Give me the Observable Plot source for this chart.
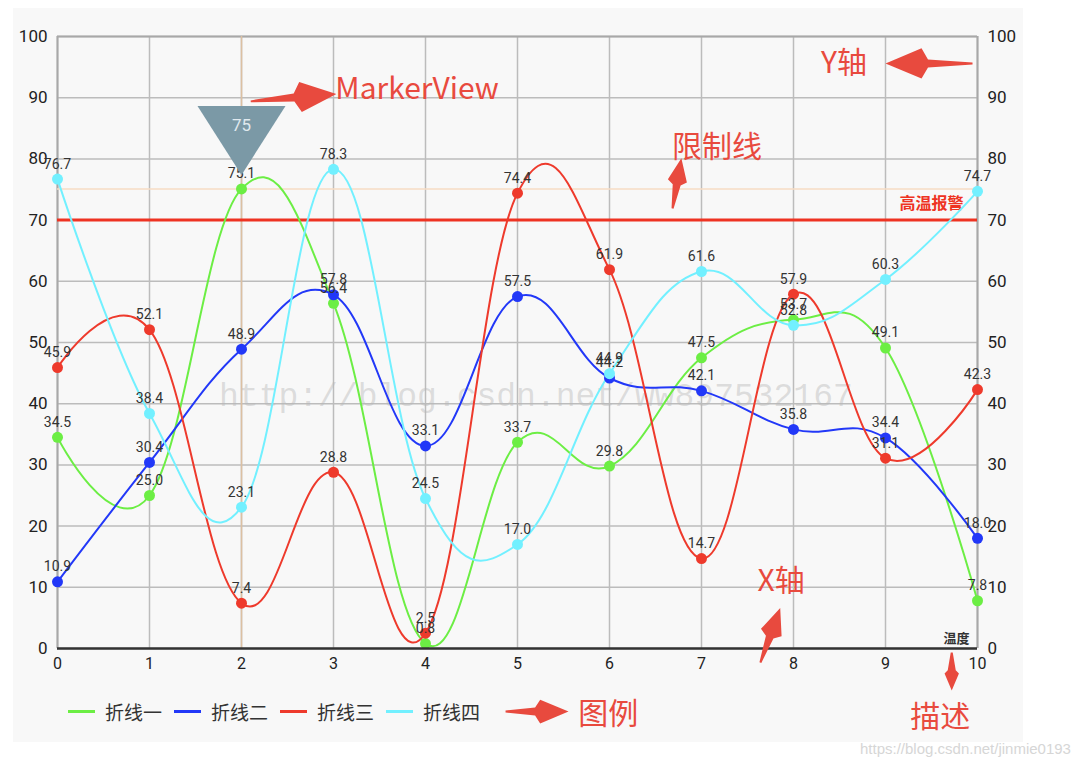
<!DOCTYPE html>
<html>
<head>
<meta charset="utf-8">
<script src="https://cdn.jsdelivr.net/npm/d3@7"></script>
<script src="https://cdn.jsdelivr.net/npm/@observablehq/plot@0.6"></script>
<style>
  html, body { margin: 0; padding: 0; background: #ffffff; }
  #wrap { position: relative; width: 1092px; height: 768px; overflow: hidden; }
  #panel { position: absolute; left: 13px; top: 8px; width: 1010px; height: 734px; background: #f8f8f8; }
  #chart { position: absolute; left: 0; top: 0; }
  #legend { position: absolute; left: 68px; top: 698px; display: flex; align-items: center;
            font-family: "Noto Sans CJK SC", sans-serif; font-size: 19px; color: #333; }
  #legend .item { display: flex; align-items: center; margin-right: 12px; }
  #legend .sw { width: 27px; height: 2.5px; margin-right: 10px; }
  #csdn { position: absolute; left: 860px; top: 740px; font-family: "Liberation Sans", Arial, sans-serif;
          font-size: 15px; color: #d6d6d6; }
</style>
</head>
<body>
<div id="wrap">
  <div id="panel"></div>
  <div id="chart"></div>
  <div id="legend"></div>
  <div id="csdn">https://blog.csdn.net/jinmie0193</div>
</div>
<script>
// ---- data ----
const xTicks = [0, 1, 2, 3, 4, 5, 6, 7, 8, 9, 10];
const yTicks = [0, 10, 20, 30, 40, 50, 60, 70, 80, 90, 100];
const seriesNames = ["折线一", "折线二", "折线三", "折线四"];
const series1 = [34.5, 25.0, 75.1, 56.4, 0.8, 33.7, 29.8, 47.5, 53.7, 49.1, 7.8];
const series2 = [10.9, 30.4, 48.9, 57.8, 33.1, 57.5, 44.2, 42.1, 35.8, 34.4, 18.0];
const series3 = [45.9, 52.1, 7.4, 28.8, 2.5, 74.4, 61.9, 14.7, 57.9, 31.1, 42.3];
const series4 = [76.7, 38.4, 23.1, 78.3, 24.5, 17.0, 44.9, 61.6, 52.8, 60.3, 74.7];
const seriesColors = ["#6cee44", "#2238f8", "#ee3a2c", "#72f0ff"];
const limitValue = 70;
const limitLabel = "高温报警";
const descriptionText = "温度";
const highlightSeries = 0;
const highlightIndex = 2;
const watermark = "http://blog.csdn.net/ww897532167";

// annotation texts and arrows (data coordinates)
const noteTexts = ["MarkerView", "限制线", "Y轴", "X轴", "图例", "描述"];
const noteX = [3.02, 6.68, 8.30, 7.61, 5.66, 9.27];
const noteY = [91.3, 81.9, 95.6, 10.9, -10.8, -11.3];
const arrowX = [2.10, 6.685, 9.946, 7.64, 4.87, 9.72];
const arrowY = [89.4, 71.9, 95.6, -2.3, -10.3, -0.65];
const arrowLen = [86, 51, 87, 58, 63, 38];
const arrowRot = [85, 10, -90, 20, 90, 180];

// ---- build tables ----
const seriesValues = [series1, series2, series3, series4];
const rows = seriesNames.flatMap((name, s) =>
  seriesValues[s].map((v, i) => ({series: name, x: xTicks[i], y: v})));
const hl = {x: xTicks[highlightIndex], y: seriesValues[highlightSeries][highlightIndex]};
const notes = noteTexts.map((t, i) => ({text: t, x: noteX[i], y: noteY[i]}));
const arrows = arrowX.map((x, i) => ({x, y: arrowY[i], len: arrowLen[i], rot: arrowRot[i]}));

// custom shapes
const markerSymbol = {
  draw(ctx) {
    ctx.moveTo(-44, -83);
    ctx.lineTo(44, -83);
    ctx.lineTo(0, -14);
    ctx.closePath();
  }
};
const fatArrow = {
  draw(ctx, l) {
    const head = Math.min(36, l * 0.45);
    const half = head * 0.42;
    const neck = 4;
    const notch = head * 0.18;
    ctx.moveTo(-1, 0);
    ctx.lineTo(-neck, -(l - head) + notch);
    ctx.lineTo(-half, -(l - head));
    ctx.lineTo(0, -l);
    ctx.lineTo(half, -(l - head));
    ctx.lineTo(neck, -(l - head) + notch);
    ctx.lineTo(1, 0);
    ctx.closePath();
  }
};

const red = "#e84a3e";
const chart = Plot.plot({
  width: 1092,
  height: 768,
  marginLeft: 57,
  marginRight: 115,
  marginTop: 36,
  marginBottom: 120,
  x: {domain: [0, 10], axis: null},
  y: {domain: [0, 100], axis: null},
  length: {type: "identity"},
  color: {domain: seriesNames, range: seriesColors},
  style: {background: "transparent", overflow: "visible", fontFamily: "Roboto, sans-serif"},
  marks: [
    Plot.gridX(xTicks, {stroke: "#bcbcbc", strokeOpacity: 1, strokeWidth: 1.5}),
    Plot.gridY(yTicks, {stroke: "#bcbcbc", strokeOpacity: 1, strokeWidth: 1.5}),
    Plot.ruleX([0, 10], {stroke: "#a8a8a8", strokeWidth: 2}),
    Plot.ruleY([100], {stroke: "#a8a8a8", strokeWidth: 2}),
    Plot.axisY({anchor: "left", ticks: yTicks, tickSize: 0, tickPadding: 10, fontSize: 17, color: "#222", label: null}),
    Plot.axisY({anchor: "right", ticks: yTicks, tickSize: 0, tickPadding: 10, fontSize: 17, color: "#222", label: null}),
    Plot.axisX({anchor: "bottom", ticks: xTicks, tickSize: 0, tickPadding: 9, fontSize: 16, color: "#222", label: null}),
    // highlight lines
    Plot.ruleX([hl], {x: "x", y1: 0, y2: 100, stroke: "#dcc0a2", strokeWidth: 1.5}),
    Plot.ruleY([hl], {y: "y", x1: 0, x2: 10, stroke: "#f7dcc4", strokeWidth: 1.5}),
    // limit line
    Plot.ruleY([limitValue], {x1: 0, x2: 10, stroke: "#ee3322", strokeWidth: 3}),
    Plot.text([limitLabel], {x: 10, y: limitValue, text: d => d, textAnchor: "end", dx: -14, dy: -16,
      fontSize: 16, fontWeight: "bold", fill: "#ee3322", fontFamily: "Noto Sans CJK SC"}),
    // watermark
    Plot.text([watermark], {x: 5.2, y: 41.3, text: d => d, fontSize: 33, fill: "#b8b8b8", fillOpacity: 0.45,
      fontFamily: "Liberation Mono, monospace"}),
    // series
    Plot.line(rows, {x: "x", y: "y", z: "series", stroke: "series", curve: "cardinal", tension: -0.2, strokeWidth: 2}),
    Plot.dot(rows, {x: "x", y: "y", fill: "series", r: 5.5}),
    Plot.text(rows, {x: "x", y: "y", text: d => d.y.toFixed(1), dy: -15, fontSize: 14, fill: "#333"}),
    // bottom axis line
    Plot.ruleY([0], {x1: 0, x2: 10, stroke: "#333", strokeWidth: 2.5}),
    // description
    Plot.text([descriptionText], {x: 10, y: 0, text: d => d, textAnchor: "end", dx: -8, dy: -10,
      fontSize: 13, fontWeight: "bold", fill: "#333", fontFamily: "Noto Sans CJK SC"}),
    // marker view
    Plot.dot([hl], {x: "x", y: "y", symbol: markerSymbol, r: 1, fill: "#7b99a6", stroke: "none"}),
    Plot.text([hl], {x: "x", y: "y", text: d => String(Math.round(d.y)), dy: -63, fontSize: 17, fill: "#e0e9ee"}),
    // annotations
    Plot.vector(arrows, {x: "x", y: "y", length: "len", rotate: "rot", anchor: "start", shape: fatArrow,
      fill: red, stroke: "none"}),
    Plot.text(notes, {x: "x", y: "y", text: "text", textAnchor: "start", fontSize: 30, fill: red,
      fontFamily: "Noto Sans CJK SC"})
  ]
});
document.getElementById("chart").appendChild(chart);

// legend
const legend = document.getElementById("legend");
seriesNames.forEach((name, i) => {
  const item = document.createElement("div");
  item.className = "item";
  const sw = document.createElement("span");
  sw.className = "sw";
  sw.style.background = seriesColors[i];
  const label = document.createElement("span");
  label.textContent = name;
  item.appendChild(sw);
  item.appendChild(label);
  legend.appendChild(item);
});
</script>
</body>
</html>
